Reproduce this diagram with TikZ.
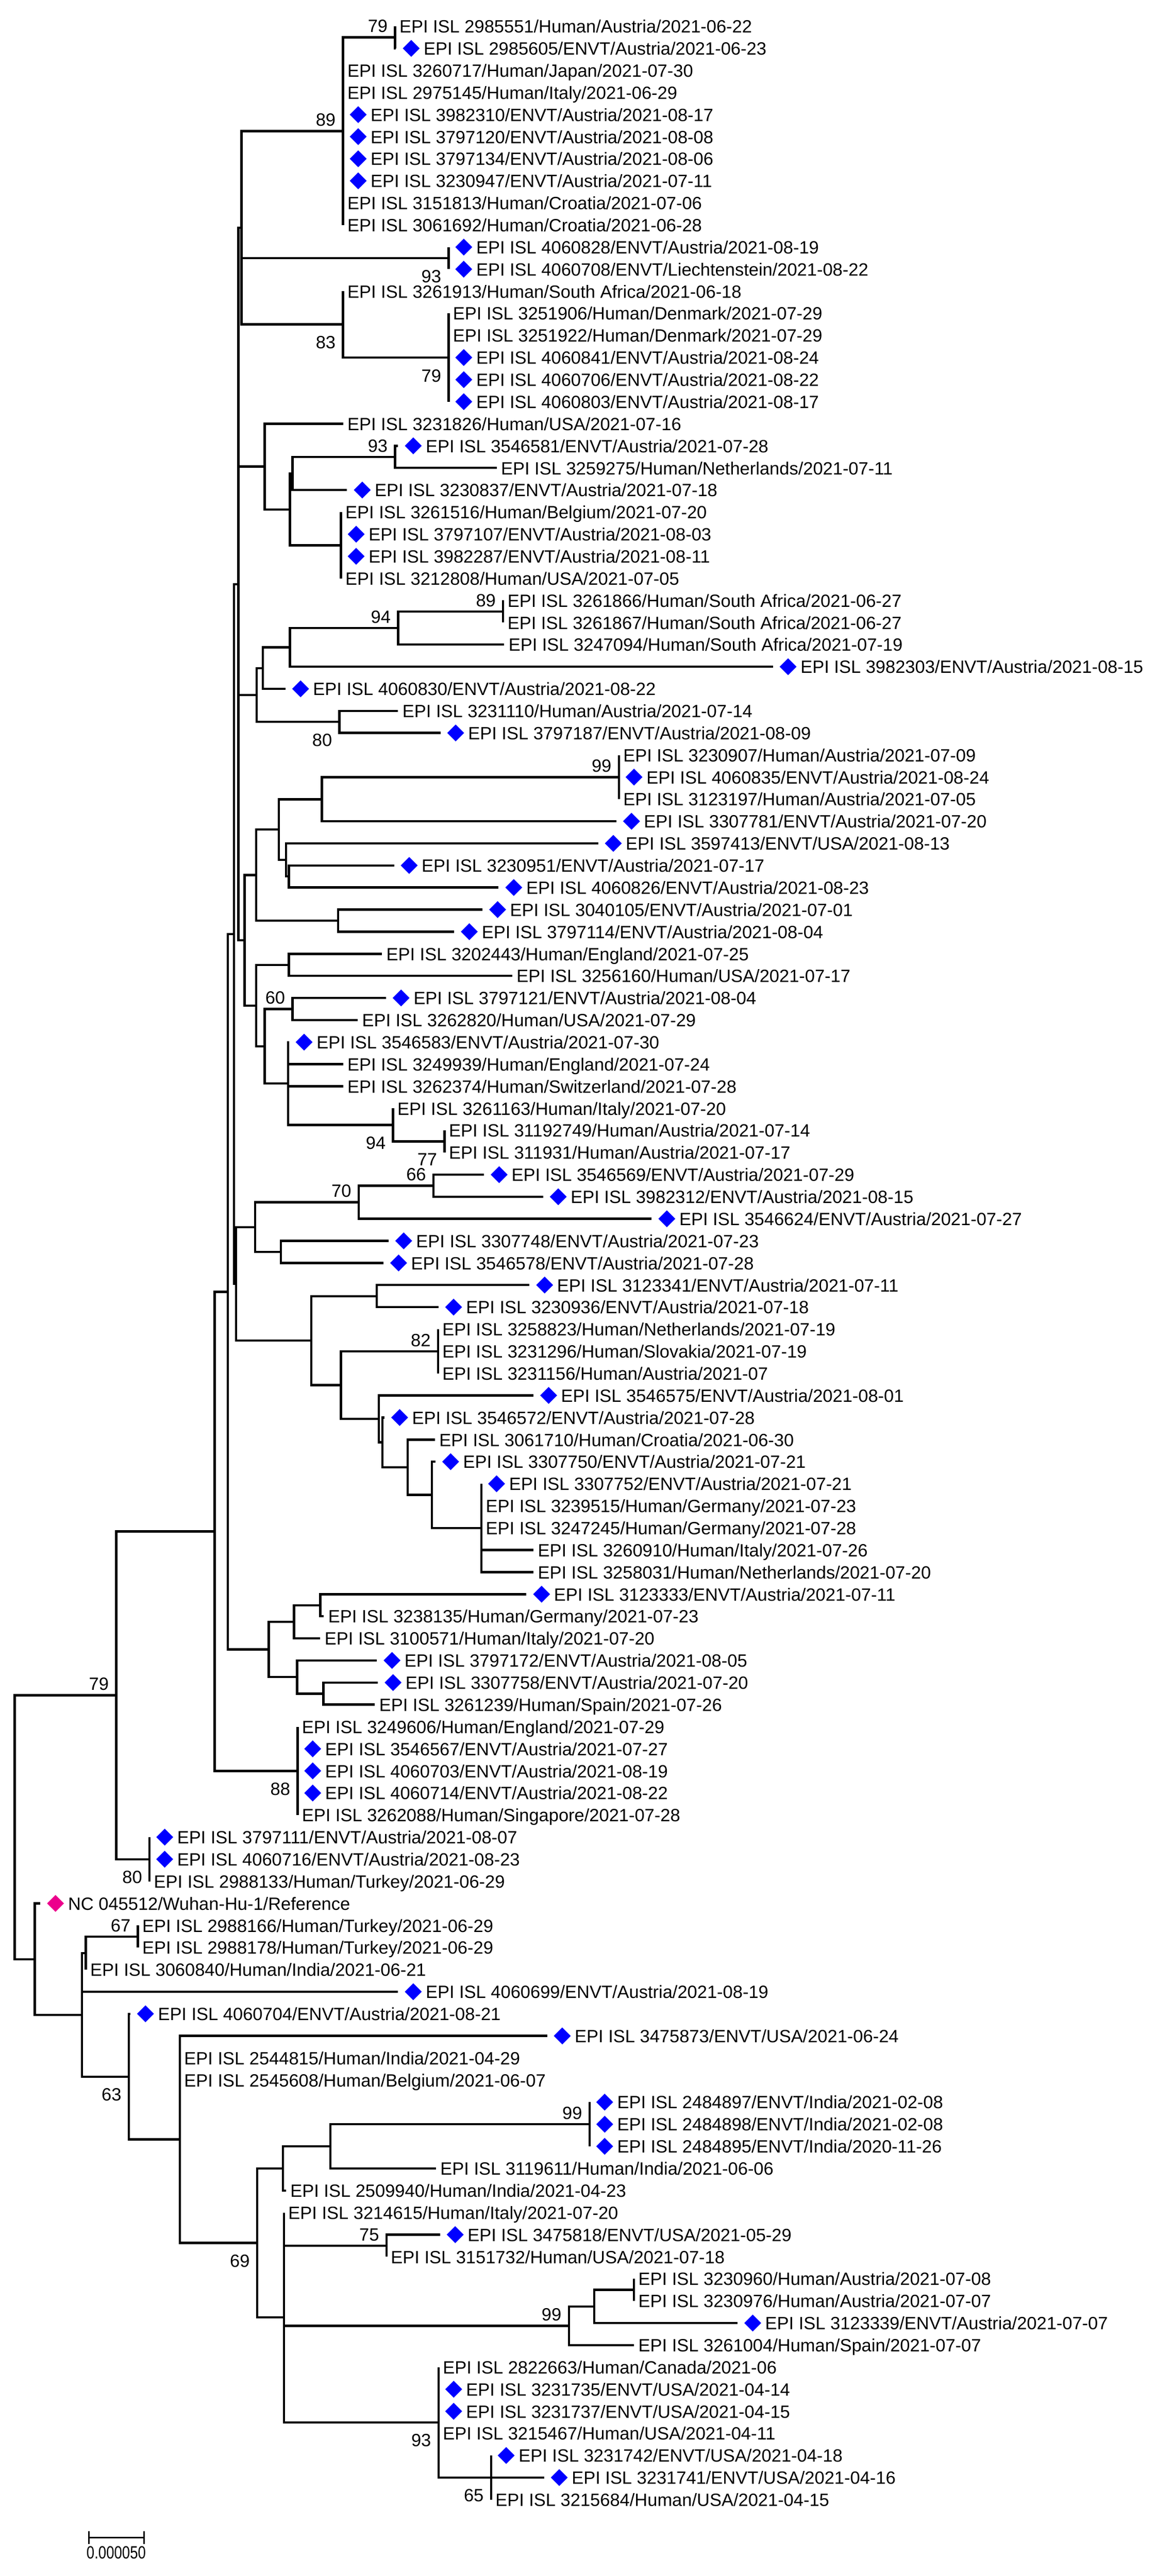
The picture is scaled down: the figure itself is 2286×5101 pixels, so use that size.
\documentclass[tikz,border=0pt]{standalone}
\usepackage{fontspec}
\setmainfont{Liberation Sans}
\usetikzlibrary{shapes.geometric,calc}
\tikzset{
  br/.style={line width=0.045cm},
  lbl/.style={anchor=base west, inner sep=0pt, font=\fontsize{10pt}{12pt}\selectfont},
  bs/.style={anchor=base east, inner sep=0pt, font=\fontsize{10pt}{12pt}\selectfont},
  dmd/.style={diamond, fill=blue, draw=none, inner sep=0pt, minimum width=0.34cm, minimum height=0.34cm},
}
\newcommand{\LeafH}[3]{%
  \coordinate (L#1) at (#2,{52+(#1-1)*43.73});
  \node[lbl] (T#1) at ({#2+8},{65+(#1-1)*43.73}) {#3};}
\newcommand{\LeafE}[3]{%
  \coordinate (L#1) at (#2,{52+(#1-1)*43.73});
  \node[dmd] (D#1) at ({#2+30},{52+(#1-1)*43.73}) {};
  \node[lbl] (T#1) at ({#2+54},{65+(#1-1)*43.73}) {#3};}
\newcommand{\BsUp}[2]{\node[bs] (b#1) at ($(#1)+(-14,-10)$) {#2};}
\newcommand{\BsDn}[2]{\node[bs] (b#1) at ($(#1)+(-14,48)$) {#2};}
\begin{document}
\begin{tikzpicture}[x=0.01cm,y=-0.01cm]
\useasboundingbox (0,0) rectangle (2286,5101);
% ---------------- leaves ----------------
\LeafH{1}{782}{EPI ISL 2985551/Human/Austria/2021-06-22}
\LeafE{2}{784}{EPI ISL 2985605/ENVT/Austria/2021-06-23}
\LeafH{3}{679}{EPI ISL 3260717/Human/Japan/2021-07-30}
\LeafH{4}{679}{EPI ISL 2975145/Human/Italy/2021-06-29}
\LeafE{5}{679}{EPI ISL 3982310/ENVT/Austria/2021-08-17}
\LeafE{6}{679}{EPI ISL 3797120/ENVT/Austria/2021-08-08}
\LeafE{7}{679}{EPI ISL 3797134/ENVT/Austria/2021-08-06}
\LeafE{8}{679}{EPI ISL 3230947/ENVT/Austria/2021-07-11}
\LeafH{9}{679}{EPI ISL 3151813/Human/Croatia/2021-07-06}
\LeafH{10}{679}{EPI ISL 3061692/Human/Croatia/2021-06-28}
\LeafE{11}{888}{EPI ISL 4060828/ENVT/Austria/2021-08-19}
\LeafE{12}{888}{EPI ISL 4060708/ENVT/Liechtenstein/2021-08-22}
\LeafH{13}{679}{EPI ISL 3261913/Human/South Africa/2021-06-18}
\LeafH{14}{888}{EPI ISL 3251906/Human/Denmark/2021-07-29}
\LeafH{15}{888}{EPI ISL 3251922/Human/Denmark/2021-07-29}
\LeafE{16}{888}{EPI ISL 4060841/ENVT/Austria/2021-08-24}
\LeafE{17}{888}{EPI ISL 4060706/ENVT/Austria/2021-08-22}
\LeafE{18}{888}{EPI ISL 4060803/ENVT/Austria/2021-08-17}
\LeafH{19}{679}{EPI ISL 3231826/Human/USA/2021-07-16}
\LeafE{20}{788}{EPI ISL 3546581/ENVT/Austria/2021-07-28}
\LeafH{21}{983}{EPI ISL 3259275/Human/Netherlands/2021-07-11}
\LeafE{22}{687}{EPI ISL 3230837/ENVT/Austria/2021-07-18}
\LeafH{23}{675}{EPI ISL 3261516/Human/Belgium/2021-07-20}
\LeafE{24}{675}{EPI ISL 3797107/ENVT/Austria/2021-08-03}
\LeafE{25}{675}{EPI ISL 3982287/ENVT/Austria/2021-08-11}
\LeafH{26}{675}{EPI ISL 3212808/Human/USA/2021-07-05}
\LeafH{27}{996}{EPI ISL 3261866/Human/South Africa/2021-06-27}
\LeafH{28}{996}{EPI ISL 3261867/Human/South Africa/2021-06-27}
\LeafH{29}{998}{EPI ISL 3247094/Human/South Africa/2021-07-19}
\LeafE{30}{1530}{EPI ISL 3982303/ENVT/Austria/2021-08-15}
\LeafE{31}{565}{EPI ISL 4060830/ENVT/Austria/2021-08-22}
\LeafH{32}{788}{EPI ISL 3231110/Human/Austria/2021-07-14}
\LeafE{33}{872}{EPI ISL 3797187/ENVT/Austria/2021-08-09}
\LeafH{34}{1225}{EPI ISL 3230907/Human/Austria/2021-07-09}
\LeafE{35}{1225}{EPI ISL 4060835/ENVT/Austria/2021-08-24}
\LeafH{36}{1225}{EPI ISL 3123197/Human/Austria/2021-07-05}
\LeafE{37}{1220}{EPI ISL 3307781/ENVT/Austria/2021-07-20}
\LeafE{38}{1184}{EPI ISL 3597413/ENVT/USA/2021-08-13}
\LeafE{39}{780}{EPI ISL 3230951/ENVT/Austria/2021-07-17}
\LeafE{40}{987}{EPI ISL 4060826/ENVT/Austria/2021-08-23}
\LeafE{41}{955}{EPI ISL 3040105/ENVT/Austria/2021-07-01}
\LeafE{42}{899}{EPI ISL 3797114/ENVT/Austria/2021-08-04}
\LeafH{43}{756}{EPI ISL 3202443/Human/England/2021-07-25}
\LeafH{44}{1014}{EPI ISL 3256160/Human/USA/2021-07-17}
\LeafE{45}{764}{EPI ISL 3797121/ENVT/Austria/2021-08-04}
\LeafH{46}{708}{EPI ISL 3262820/Human/USA/2021-07-29}
\LeafE{47}{572}{EPI ISL 3546583/ENVT/Austria/2021-07-30}
\LeafH{48}{679}{EPI ISL 3249939/Human/England/2021-07-24}
\LeafH{49}{679}{EPI ISL 3262374/Human/Switzerland/2021-07-28}
\LeafH{50}{778}{EPI ISL 3261163/Human/Italy/2021-07-20}
\LeafH{51}{880}{EPI ISL 31192749/Human/Austria/2021-07-14}
\LeafH{52}{880}{EPI ISL 311931/Human/Austria/2021-07-17}
\LeafE{53}{958}{EPI ISL 3546569/ENVT/Austria/2021-07-29}
\LeafE{54}{1075}{EPI ISL 3982312/ENVT/Austria/2021-08-15}
\LeafE{55}{1290}{EPI ISL 3546624/ENVT/Austria/2021-07-27}
\LeafE{56}{769}{EPI ISL 3307748/ENVT/Austria/2021-07-23}
\LeafE{57}{759}{EPI ISL 3546578/ENVT/Austria/2021-07-28}
\LeafE{58}{1048}{EPI ISL 3123341/ENVT/Austria/2021-07-11}
\LeafE{59}{868}{EPI ISL 3230936/ENVT/Austria/2021-07-18}
\LeafH{60}{867}{EPI ISL 3258823/Human/Netherlands/2021-07-19}
\LeafH{61}{867}{EPI ISL 3231296/Human/Slovakia/2021-07-19}
\LeafH{62}{867}{EPI ISL 3231156/Human/Austria/2021-07}
\LeafE{63}{1056}{EPI ISL 3546575/ENVT/Austria/2021-08-01}
\LeafE{64}{761}{EPI ISL 3546572/ENVT/Austria/2021-07-28}
\LeafH{65}{861}{EPI ISL 3061710/Human/Croatia/2021-06-30}
\LeafE{66}{862}{EPI ISL 3307750/ENVT/Austria/2021-07-21}
\LeafE{67}{953}{EPI ISL 3307752/ENVT/Austria/2021-07-21}
\LeafH{68}{953}{EPI ISL 3239515/Human/Germany/2021-07-23}
\LeafH{69}{953}{EPI ISL 3247245/Human/Germany/2021-07-28}
\LeafH{70}{1056}{EPI ISL 3260910/Human/Italy/2021-07-26}
\LeafH{71}{1056}{EPI ISL 3258031/Human/Netherlands/2021-07-20}
\LeafE{72}{1042}{EPI ISL 3123333/ENVT/Austria/2021-07-11}
\LeafH{73}{641}{EPI ISL 3238135/Human/Germany/2021-07-23}
\LeafH{74}{634}{EPI ISL 3100571/Human/Italy/2021-07-20}
\LeafE{75}{746}{EPI ISL 3797172/ENVT/Austria/2021-08-05}
\LeafE{76}{748}{EPI ISL 3307758/ENVT/Austria/2021-07-20}
\LeafH{77}{742}{EPI ISL 3261239/Human/Spain/2021-07-26}
\LeafH{78}{589}{EPI ISL 3249606/Human/England/2021-07-29}
\LeafE{79}{589}{EPI ISL 3546567/ENVT/Austria/2021-07-27}
\LeafE{80}{589}{EPI ISL 4060703/ENVT/Austria/2021-08-19}
\LeafE{81}{589}{EPI ISL 4060714/ENVT/Austria/2021-08-22}
\LeafH{82}{589}{EPI ISL 3262088/Human/Singapore/2021-07-28}
\LeafE{83}{296}{EPI ISL 3797111/ENVT/Austria/2021-08-07}
\LeafE{84}{296}{EPI ISL 4060716/ENVT/Austria/2021-08-23}
\LeafH{85}{296}{EPI ISL 2988133/Human/Turkey/2021-06-29}
\coordinate (L86) at (80,{52+85*43.73});
\node[dmd,fill=magenta] (D86) at (110,{52+85*43.73}) {};
\node[lbl] (T86) at (134,{65+85*43.73}) {NC 045512/Wuhan-Hu-1/Reference};
\LeafH{87}{273}{EPI ISL 2988166/Human/Turkey/2021-06-29}
\LeafH{88}{273}{EPI ISL 2988178/Human/Turkey/2021-06-29}
\LeafH{89}{170}{EPI ISL 3060840/Human/India/2021-06-21}
\LeafE{90}{788}{EPI ISL 4060699/ENVT/Austria/2021-08-19}
\LeafE{91}{258}{EPI ISL 4060704/ENVT/Austria/2021-08-21}
\LeafE{92}{1083}{EPI ISL 3475873/ENVT/USA/2021-06-24}
\LeafH{93}{356}{EPI ISL 2544815/Human/India/2021-04-29}
\LeafH{94}{356}{EPI ISL 2545608/Human/Belgium/2021-06-07}
\LeafE{95}{1167}{EPI ISL 2484897/ENVT/India/2021-02-08}
\LeafE{96}{1167}{EPI ISL 2484898/ENVT/India/2021-02-08}
\LeafE{97}{1167}{EPI ISL 2484895/ENVT/India/2020-11-26}
\LeafH{98}{863}{EPI ISL 3119611/Human/India/2021-06-06}
\LeafH{99}{566}{EPI ISL 2509940/Human/India/2021-04-23}
\LeafH{100}{562}{EPI ISL 3214615/Human/Italy/2021-07-20}
\LeafE{101}{871}{EPI ISL 3475818/ENVT/USA/2021-05-29}
\LeafH{102}{765}{EPI ISL 3151732/Human/USA/2021-07-18}
\LeafH{103}{1255}{EPI ISL 3230960/Human/Austria/2021-07-08}
\LeafH{104}{1255}{EPI ISL 3230976/Human/Austria/2021-07-07}
\LeafE{105}{1460}{EPI ISL 3123339/ENVT/Austria/2021-07-07}
\LeafH{106}{1255}{EPI ISL 3261004/Human/Spain/2021-07-07}
\LeafH{107}{868}{EPI ISL 2822663/Human/Canada/2021-06}
\LeafE{108}{868}{EPI ISL 3231735/ENVT/USA/2021-04-14}
\LeafE{109}{868}{EPI ISL 3231737/ENVT/USA/2021-04-15}
\LeafH{110}{868}{EPI ISL 3215467/Human/USA/2021-04-11}
\LeafE{111}{972}{EPI ISL 3231742/ENVT/USA/2021-04-18}
\LeafE{112}{1077}{EPI ISL 3231741/ENVT/USA/2021-04-16}
\LeafH{113}{972}{EPI ISL 3215684/Human/USA/2021-04-15}
% ---------------- internal nodes ----------------
\coordinate (n79a) at (782,73.9);
\coordinate (n89a) at (679,259.8);
\coordinate (n93a) at (888,511.2);
\coordinate (n79b) at (888,708.0);
\coordinate (n83) at (679,642.4);
\coordinate (nA) at (478,451.1);
\coordinate (n93b) at (782,904.8);
\coordinate (nJ) at (579,937.6);
\coordinate (nI) at (675,1079.7);
\coordinate (nH) at (574,1008.7);
\coordinate (nG) at (524,923.9);
\coordinate (n89b) at (996,1210.9);
\coordinate (n94a) at (788,1243.7);
\coordinate (nM) at (574,1282.0);
\coordinate (nN) at (520,1323.0);
\coordinate (n80a) at (672,1429.5);
\coordinate (nO) at (508,1376.3);
\coordinate (n99a) at (1225,1538.8);
\coordinate (nR) at (637,1582.6);
\coordinate (nT) at (572,1735.6);
\coordinate (nU) at (566,1702.8);
\coordinate (nS) at (552,1642.7);
\coordinate (nW) at (669,1823.1);
\coordinate (nV) at (507,1732.9);
\coordinate (nZ) at (572,1910.6);
\coordinate (n60) at (579,1998.0);
\coordinate (n77) at (880,2260.4);
\coordinate (n94b) at (778,2227.6);
\coordinate (nAB) at (570,2145.6);
\coordinate (nAA) at (524,2071.8);
\coordinate (nY) at (507,1991.2);
\coordinate (nX) at (484,1862.1);
\coordinate (nK) at (472,1156.6);
\coordinate (n66) at (858,2347.9);
\coordinate (n70) at (710,2380.7);
\coordinate (nQQ) at (556,2479.1);
\coordinate (nBB) at (505,2429.9);
\coordinate (nJJ) at (746,2566.5);
\coordinate (n82) at (867,2675.8);
\coordinate (nPP) at (953,3025.7);
\coordinate (nOO) at (855,2960.1);
\coordinate (nNN) at (807,2905.4);
\coordinate (nMM) at (757,2856.2);
\coordinate (nLL) at (750,2809.8);
\coordinate (nKK) at (675,2742.8);
\coordinate (nDD) at (616,2654.7);
\coordinate (nCC) at (467,2542.3);
\coordinate (nQ) at (463,1849.5);
\coordinate (nGG) at (634,3178.7);
\coordinate (nFF) at (582,3211.5);
\coordinate (nII) at (640,3353.7);
\coordinate (nHH) at (588,3320.9);
\coordinate (nEE) at (532,3266.2);
\coordinate (nRp) at (451,2557.9);
\coordinate (n88) at (589,3506.7);
\coordinate (nB) at (425,3032.3);
\coordinate (n80b) at (296,3681.6);
\coordinate (n79c) at (230,3357.0);
\coordinate (n67) at (273,3834.7);
\coordinate (nD) at (170,3867.5);
\coordinate (n99b) at (1167,4206.4);
\coordinate (nSS) at (654,4250.1);
\coordinate (nRR) at (560,4293.8);
\coordinate (n75) at (765,4446.9);
\coordinate (nVV) at (1255,4534.4);
\coordinate (nUU) at (1176,4567.2);
\coordinate (n99c) at (1126,4605.5);
\coordinate (n65) at (972,4906.0);
\coordinate (n93c) at (868,4796.7);
\coordinate (nTT) at (562,4589.0);
\coordinate (n69) at (509,4441.4);
\coordinate (nE) at (356,4236.4);
\coordinate (n63) at (255,4112.1);
\coordinate (nC) at (162,3989.8);
\coordinate (nR2) at (69,3879.5);
\coordinate (root) at (29,3618.3);
% ---------------- branches ----------------
\foreach \p/\cs in {
  n79a/{L1,L2},
  n89a/{n79a,L3,L4,L5,L6,L7,L8,L9,L10},
  n93a/{L11,L12},
  n79b/{L14,L15,L16,L17,L18},
  n83/{L13,n79b},
  nA/{n89a,n93a,n83},
  n93b/{L20,L21},
  nJ/{n93b,L22},
  nI/{L23,L24,L25,L26},
  nH/{nJ,nI},
  nG/{L19,nH},
  n89b/{L27,L28},
  n94a/{n89b,L29},
  nM/{n94a,L30},
  nN/{nM,L31},
  n80a/{L32,L33},
  nO/{nN,n80a},
  n99a/{L34,L35,L36},
  nR/{n99a,L37},
  nT/{L39,L40},
  nU/{L38,nT},
  nS/{nR,nU},
  nW/{L41,L42},
  nV/{nS,nW},
  nZ/{L43,L44},
  n60/{L45,L46},
  n77/{L51,L52},
  n94b/{L50,n77},
  nAB/{L47,L48,L49,n94b},
  nAA/{n60,nAB},
  nY/{nZ,nAA},
  nX/{nV,nY},
  nK/{nA,nG,nO,nX},
  n66/{L53,L54},
  n70/{n66,L55},
  nQQ/{L56,L57},
  nBB/{n70,nQQ},
  nJJ/{L58,L59},
  n82/{L60,L61,L62},
  nPP/{L67,L68,L69,L70,L71},
  nOO/{L66,nPP},
  nNN/{L65,nOO},
  nMM/{L64,nNN},
  nLL/{L63,nMM},
  nKK/{n82,nLL},
  nDD/{nJJ,nKK},
  nCC/{nBB,nDD},
  nQ/{nK,nCC},
  nGG/{L72,L73},
  nFF/{nGG,L74},
  nII/{L76,L77},
  nHH/{L75,nII},
  nEE/{nFF,nHH},
  nRp/{nQ,nEE},
  n88/{L78,L79,L80,L81,L82},
  nB/{nRp,n88},
  n80b/{L83,L84,L85},
  n79c/{nB,n80b},
  n67/{L87,L88},
  nD/{n67,L89},
  n99b/{L95,L96,L97},
  nSS/{n99b,L98},
  nRR/{nSS,L99},
  n75/{L101,L102},
  nVV/{L103,L104},
  nUU/{nVV,L105},
  n99c/{nUU,L106},
  n65/{L111,L113},
  n93c/{L107,L108,L109,L110,n65,L112},
  nTT/{L100,n75,n99c,n93c},
  n69/{nRR,nTT},
  nE/{L92,L93,L94,n69},
  n63/{L91,nE},
  nC/{nD,L90,n63},
  nR2/{L86,nC},
  root/{n79c,nR2}}
  {\foreach \c in \cs {\draw[br] (\p) |- (\c);}}
% ---------------- bootstrap values ----------------
\BsUp{n79a}{79}
\BsUp{n89a}{89}
\BsDn{n93a}{93}
\BsDn{n83}{83}
\BsDn{n79b}{79}
\BsUp{n93b}{93}
\BsUp{n89b}{89}
\BsUp{n94a}{94}
\BsDn{n80a}{80}
\BsUp{n99a}{99}
\BsUp{n60}{60}
\BsDn{n94b}{94}
\BsDn{n77}{77}
\BsUp{n66}{66}
\BsUp{n70}{70}
\BsUp{n82}{82}
\BsUp{n79c}{79}
\BsDn{n88}{88}
\BsDn{n80b}{80}
\BsUp{n67}{67}
\BsDn{n63}{63}
\BsUp{n99b}{99}
\BsUp{n75}{75}
\BsDn{n69}{69}
\BsUp{n99c}{99}
\BsDn{n93c}{93}
\BsDn{n65}{65}
% ---------------- scale bar ----------------
\coordinate (sbA) at (176,5025);
\coordinate (sbB) at (285,5025);
\draw[line width=0.03cm] (sbA) -- (sbB);
\draw[line width=0.03cm] (176,5012) -- (176,5038);
\draw[line width=0.03cm] (285,5012) -- (285,5038);
\node[inner sep=0pt, anchor=base, font=\fontsize{10pt}{12pt}\selectfont] (sbl) at (230,5067) {\scalebox{0.8}[1]{0.000050}};
\end{tikzpicture}
\end{document}
